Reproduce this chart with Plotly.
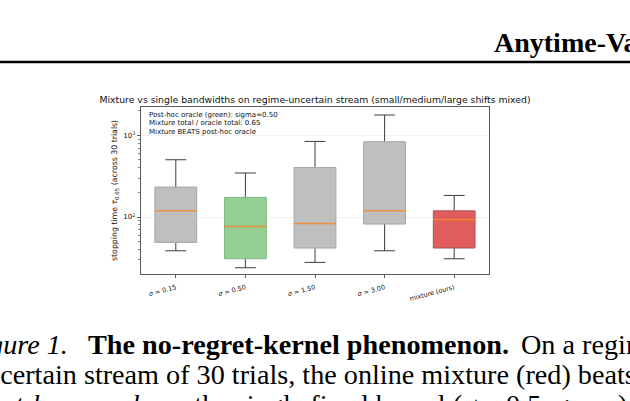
import plotly.graph_objects as go

# ---------------- data ----------------
categories = ["<i>σ</i> = 0.15", "<i>σ</i> = 0.50", "<i>σ</i> = 1.50", "<i>σ</i> = 3.00", "mixture (ours)"]
positions = [1, 2, 3, 4, 5]
whisk_lo = [38.6, 23.9, 27.8, 38.6, 30.8]
q1 = [48.9, 30.8, 41.7, 82.0, 41.7]
median = [119, 76.7, 83.5, 119, 92.7]
q3 = [233, 174, 405, 837, 119]
whisk_hi = [503, 346, 844, 1778, 184]
fill_colors = ["#bfbfbf", "#95cf95", "#bfbfbf", "#bfbfbf", "#e05c5d"]
edge_colors = ["#a6a6a6", "#80b680", "#a6a6a6", "#a6a6a6", "#a95656"]
y_tickvals = [100, 1000]
y_ticktext = ["10<sup>2</sup>", "10<sup>3</sup>"]
y_minor = [20, 30, 40, 50, 60, 70, 80, 90, 200, 300, 400, 500, 600, 700, 800, 900, 2000]
info_lines = ["Post-hoc oracle (green): sigma=0.50",
              "Mixture total / oracle total: 0.65",
              "Mixture BEATS post-hoc oracle"]

BOX_W = 0.6
CAP_W = 0.3

W, H = 630, 401
L, R, T, B = 141, 141, 107, 127
PW, PH = W - L - R, H - T - B


def px(x):
    return (x - L) / PW


def py(y):
    return (H - B - y) / PH


fig = go.Figure()

for i, p in enumerate(positions):
    hb, hc = BOX_W / 2, CAP_W / 2
    # whiskers and caps
    fig.add_trace(go.Scatter(
        x=[p, p, None, p, p, None, p - hc, p + hc, None, p - hc, p + hc],
        y=[whisk_lo[i], q1[i], None, q3[i], whisk_hi[i], None,
           whisk_lo[i], whisk_lo[i], None, whisk_hi[i], whisk_hi[i]],
        mode="lines", line=dict(color="#3c3c3c", width=1),
        hoverinfo="skip", showlegend=False))
    # box body
    fig.add_trace(go.Scatter(
        x=[p - hb, p + hb, p + hb, p - hb, p - hb],
        y=[q1[i], q1[i], q3[i], q3[i], q1[i]],
        mode="lines", fill="toself", fillcolor=fill_colors[i],
        line=dict(color=edge_colors[i], width=1),
        hoverinfo="skip", showlegend=False))
    # median
    fig.add_trace(go.Scatter(
        x=[p - hb, p + hb], y=[median[i], median[i]],
        mode="lines", line=dict(color="rgba(245,135,40,0.85)", width=1.5),
        hoverinfo="skip", showlegend=False))

fig.update_layout(
    width=W, height=H,
    margin=dict(l=L, r=R, t=T, b=B, pad=0),
    paper_bgcolor="white", plot_bgcolor="white",
    font=dict(family="DejaVu Sans", color="#111111", size=7),
    title=dict(
        text="Mixture vs single bandwidths on regime-uncertain stream (small/medium/large shifts mixed)",
        x=0.5, xref="paper", xanchor="center",
        y=1 - 100 / H, yref="container", yanchor="middle",
        font=dict(size=9.3, family="DejaVu Sans", color="#111111")),
    xaxis=dict(
        range=[0.5, 5.5], tickmode="array", tickvals=positions, ticktext=categories,
        tickangle=-15, ticks="outside", ticklen=3.5, tickwidth=0.8, tickcolor="#333333",
        ticklabelstandoff=3,
        showgrid=False, zeroline=False, showline=True, linecolor="#333333",
        linewidth=0.8, mirror=True, tickfont=dict(size=6.5, color="#111111")),
    yaxis=dict(
        type="log", range=[1.302, 3.348], tickmode="array", tickvals=y_tickvals,
        ticktext=y_ticktext, ticks="outside", ticklen=3.5, tickwidth=0.8,
        ticklabelstandoff=0,
        tickcolor="#333333", showgrid=True, gridcolor="#ececec", gridwidth=0.8,
        zeroline=False, showline=True, linecolor="#333333", linewidth=0.8, mirror=True,
        tickfont=dict(size=7, color="#111111"),
        minor=dict(tickmode="array", tickvals=y_minor, ticks="outside", ticklen=2,
                   tickwidth=0.6, tickcolor="#333333", showgrid=False)),
)

# y-axis label
fig.add_annotation(
    text="stopping time <i>τ</i><sub>0.05</sub> (across 30 trials)",
    xref="paper", yref="paper", x=px(115), y=py(191), textangle=-90,
    xanchor="center", yanchor="middle", showarrow=False,
    font=dict(size=7.8, family="DejaVu Sans", color="#111111"), borderpad=0)

# info text block
for k, line in enumerate(info_lines):
    fig.add_annotation(
        text=line, xref="paper", yref="paper", x=px(148), y=py(115 + 8.3 * k),
        xanchor="left", yanchor="middle", showarrow=False, borderpad=0,
        font=dict(size=7, family="DejaVu Sans", color="#111111"))

# ---------- page context (header + caption) ----------
fig.add_annotation(
    text="<b>Anytime-Valid Kernel Testing</b>", xref="paper", yref="paper",
    x=px(493), y=py(42.5), xanchor="left", yanchor="middle", showarrow=False,
    borderpad=0, font=dict(size=28, family="Liberation Serif", color="black"))
fig.add_shape(type="line", xref="paper", yref="paper", x0=px(-5), x1=px(640),
              y0=py(62), y1=py(62), line=dict(color="black", width=2.6))

cap_font = dict(size=28.2, family="Liberation Serif", color="black")
fig.add_annotation(text="<i>Figure 1.</i>", xref="paper", yref="paper",
                   x=px(-38), y=py(344), xanchor="left", yanchor="middle",
                   showarrow=False, borderpad=0, font=cap_font)
fig.add_annotation(text="<b>The no-regret-kernel phenomenon.</b>", xref="paper", yref="paper",
                   x=px(87), y=py(344), xanchor="left", yanchor="middle",
                   showarrow=False, borderpad=0, font=cap_font)
fig.add_annotation(text="On a regime-", xref="paper", yref="paper",
                   x=px(520), y=py(344), xanchor="left", yanchor="middle",
                   showarrow=False, borderpad=0, font=cap_font)
fig.add_annotation(text="uncertain stream of 30 trials, the online mixture (red) beats the",
                   xref="paper", yref="paper",
                   x=px(-29), y=py(374), xanchor="left", yanchor="middle",
                   showarrow=False, borderpad=0, font=cap_font)
fig.add_annotation(text="<i>post-hoc oracle</i> — the single fixed kernel (<i>σ</i> = 0.5, green) should",
                   xref="paper", yref="paper",
                   x=px(-27), y=py(404), xanchor="left", yanchor="middle",
                   showarrow=False, borderpad=0, font=cap_font)

fig.write_html("out.html",
               config={"displayModeBar": False, "staticPlot": True},
               post_script="document.body.style.margin='0';document.body.style.padding='0';document.body.style.overflow='hidden';")
